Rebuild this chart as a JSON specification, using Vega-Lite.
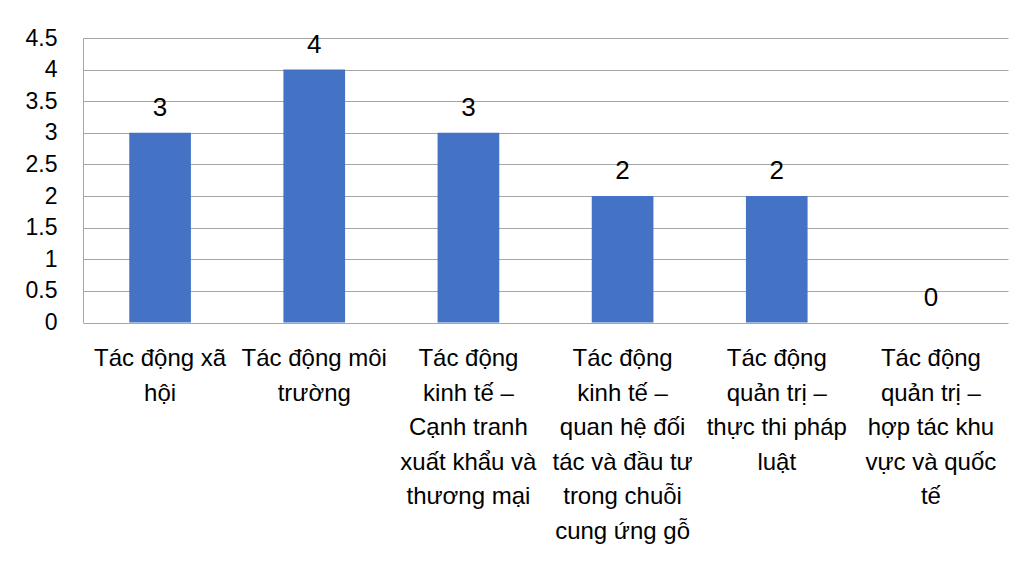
{
  "$schema": "https://vega.github.io/schema/vega-lite/v6.json",
  "width": 925,
  "height": 284.5,
  "autosize": {"type": "none"},
  "padding": {"left": 83, "top": 38, "right": 16, "bottom": 238.5},
  "background": "white",
  "data": {
    "values": [
      {"tac_dong": "Tác động xã\nhội", "so_luong": 3},
      {"tac_dong": "Tác động môi\ntrường", "so_luong": 4},
      {"tac_dong": "Tác động\nkinh tế –\nCạnh tranh\nxuất khẩu và\nthương mại", "so_luong": 3},
      {"tac_dong": "Tác động\nkinh tế –\nquan hệ đối\ntác và đầu tư\ntrong chuỗi\ncung ứng gỗ", "so_luong": 2},
      {"tac_dong": "Tác động\nquản trị –\nthực thi pháp\nluật", "so_luong": 2},
      {"tac_dong": "Tác động\nquản trị –\nhợp tác khu\nvực và quốc\ntế", "so_luong": 0}
    ]
  },
  "encoding": {
    "x": {
      "field": "tac_dong",
      "type": "nominal",
      "sort": null,
      "scale": {"paddingInner": 0.6, "paddingOuter": 0.3},
      "axis": {
        "title": null,
        "labelAngle": 0,
        "labelExpr": "split(datum.label, '\\n')",
        "labelFont": "Liberation Sans",
        "labelFontSize": 24,
        "labelColor": "#000000",
        "labelLineHeight": 34.5,
        "labelBaseline": "top",
        "labelPadding": 24,
        "labelLimit": 0,
        "ticks": false,
        "domain": false,
        "grid": false
      }
    },
    "y": {
      "field": "so_luong",
      "type": "quantitative",
      "scale": {"domain": [0, 4.5], "nice": false},
      "axis": {
        "title": null,
        "values": [0, 0.5, 1, 1.5, 2, 2.5, 3, 3.5, 4, 4.5],
        "format": "~g",
        "labelFont": "Liberation Sans",
        "labelFontSize": 23,
        "labelColor": "#000000",
        "labelPadding": 26,
        "ticks": false,
        "domain": true,
        "domainColor": "#a6a6a6",
        "domainWidth": 1,
        "grid": true,
        "gridColor": "#a6a6a6",
        "gridWidth": 1
      }
    }
  },
  "layer": [
    {
      "mark": {"type": "bar", "color": "#4472C4"}
    },
    {
      "mark": {
        "type": "text",
        "font": "Liberation Sans",
        "fontSize": 26,
        "color": "#000000",
        "baseline": "alphabetic",
        "dy": -17
      },
      "encoding": {"text": {"field": "so_luong", "type": "quantitative"}}
    }
  ],
  "config": {
    "view": {"stroke": null}
  }
}
